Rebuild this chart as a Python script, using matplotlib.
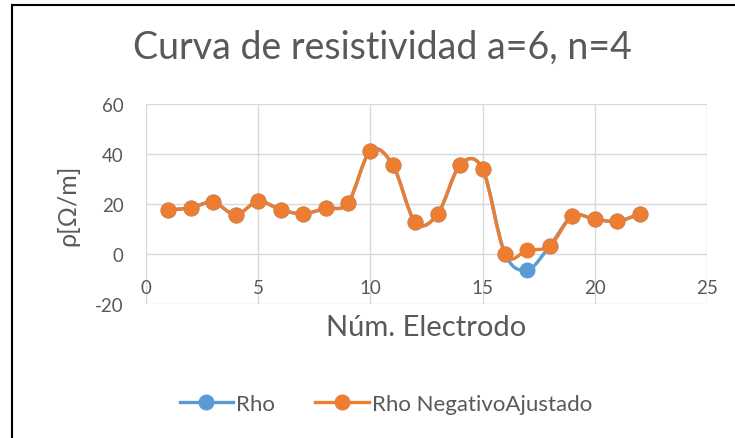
import numpy as np
import matplotlib.pyplot as plt
from matplotlib.path import Path
from matplotlib.patches import PathPatch
from matplotlib.lines import Line2D

plt.rcParams['font.family'] = ['Lato', 'DejaVu Sans']
plt.rcParams['axes.unicode_minus'] = False

electrodo = [1, 2, 3, 4, 5, 6, 7, 8, 9, 10, 11, 12, 13, 14, 15, 16, 17, 18, 19, 20, 21, 22]
rho = [17.6, 18.5, 20.7, 15.7, 21.1, 17.7, 16.1, 18.3, 20.4, 41.3, 35.6, 12.7,
       16.0, 35.7, 34.0, 0.1, -6.3, 3.3, 15.2, 13.9, 13.1, 16.0]
rho_ajustado = [17.6, 18.5, 20.7, 15.7, 21.1, 17.7, 16.1, 18.3, 20.4, 41.3, 35.6, 12.7,
                16.0, 35.7, 34.0, 0.1, 1.6, 3.3, 15.2, 13.9, 13.1, 16.0]

BLUE = '#5B9BD5'
ORANGE = '#ED7D31'
TXT = '#595959'
GRID = '#D9D9D9'


def smooth_path(x, y):
    # Excel-like smoothed line: cubic Bezier segments, Catmull-Rom control points
    p = np.column_stack([x, y]).astype(float)
    verts = [p[0]]
    codes = [Path.MOVETO]
    n = len(p)
    for i in range(n - 1):
        p0 = p[i - 1] if i > 0 else p[i]
        p3 = p[i + 2] if i + 2 < n else p[i + 1]
        c1 = p[i] + (p[i + 1] - p0) / 6
        c2 = p[i + 1] - (p3 - p[i]) / 6
        verts += [c1, c2, p[i + 1]]
        codes += [Path.CURVE4] * 3
    return Path(verts, codes)


fig = plt.figure(figsize=(7.35, 4.39), dpi=100)
ax = fig.add_axes([146 / 735, 1 - 305 / 439, 561 / 735, 200 / 439])

for ys, col in [(rho, BLUE), (rho_ajustado, ORANGE)]:
    ax.add_patch(PathPatch(smooth_path(electrodo, ys), facecolor='none',
                           edgecolor=col, lw=2.4, capstyle='round', zorder=3))
    ax.plot(electrodo, ys, 'o', color=col, ms=10.5, zorder=4)

ax.set_xlim(0, 25)
ax.set_ylim(-20, 60)
ax.set_xticks(range(0, 26, 5))
ax.set_yticks(range(-20, 61, 20))
ax.grid(True, color=GRID, lw=1)
ax.set_axisbelow(True)
for s in ax.spines.values():
    s.set_visible(False)
ax.spines['bottom'].set_position(('data', 0))
ax.tick_params(length=0, labelsize=13.5, labelcolor=TXT)
ax.tick_params(axis='x', pad=18)
ax.tick_params(axis='y', pad=16)

fig.text(426.5 / 735, 1 - 328 / 439, 'Núm. Electrodo', fontsize=21,
         color=TXT, ha='center', va='center')
fig.text(68 / 735, 1 - 205 / 439, 'ρ[Ω/m]', rotation=90, fontsize=18,
         color=TXT, ha='center', va='center')

fig.text(382 / 735, 1 - 48 / 439, 'Curva de resistividad a=6, n=4',
         fontsize=27, color=TXT, ha='center', va='center')

handles = [Line2D([], [], color=BLUE, lw=2.4, marker='o', ms=10.5),
           Line2D([], [], color=ORANGE, lw=2.4, marker='o', ms=10.5)]
fig.legend(handles, ['Rho', 'Rho NegativoAjustado'], ncol=2, frameon=False,
           loc='center', bbox_to_anchor=(386 / 735, 1 - 405 / 439),
           fontsize=16, labelcolor=TXT, handlelength=2.4, handletextpad=0.15,
           columnspacing=1.8)

fig.add_artist(Line2D([11.5 / 735, 11.5 / 735], [0, 1 - 6 / 439], color='black', lw=1.5))
fig.add_artist(Line2D([11.5 / 735, 1], [1 - 6 / 439, 1 - 6 / 439], color='black', lw=1.5))

fig.savefig('out.png', dpi=100)
